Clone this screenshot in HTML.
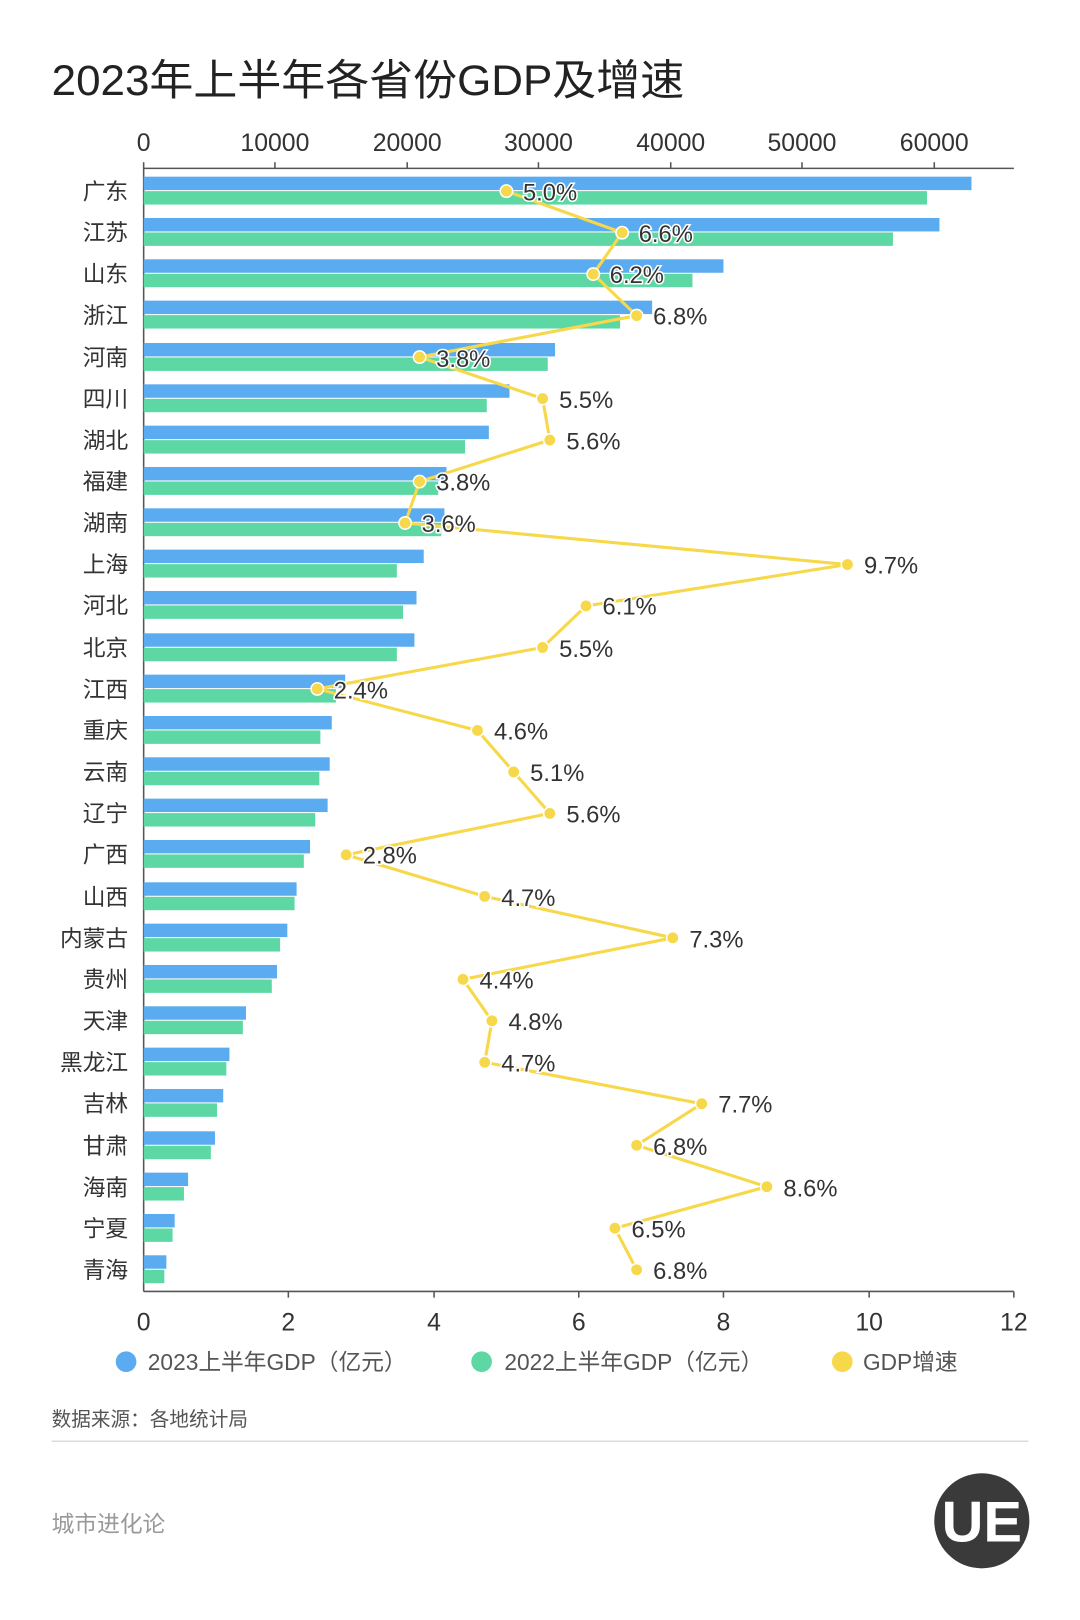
<!DOCTYPE html>
<html><head><meta charset="utf-8"><style>
html,body{margin:0;padding:0;background:#fff;}
svg{display:block;font-family:"Liberation Sans","Noto Sans CJK SC",sans-serif;}
.t{font-size:22px;fill:#333;}
.p{font-size:23px;fill:#333;paint-order:stroke;stroke:#fff;stroke-width:3px;}
.r{font-size:22px;fill:#333;text-anchor:end;}
.b{fill:#5aabf0;}.g{fill:#5dd8a4;}
</style></head><body>
<svg width="1080" height="1620" viewBox="0 0 1045 1568" preserveAspectRatio="none">
<rect width="1045" height="1568" fill="#fff"/>
<text x="50" y="92" textLength="612" lengthAdjust="spacingAndGlyphs" style="font-size:41px;fill:#222;">2023年上半年各省份GDP及增速</text>
<g class="t" text-anchor="middle" style="font-size:24px">
<text x="139" y="146">0</text><text x="266" y="146">10000</text><text x="394" y="146">20000</text><text x="521" y="146">30000</text><text x="649" y="146">40000</text><text x="776" y="146">50000</text><text x="904" y="146">60000</text>
<text x="139" y="1288">0</text><text x="279" y="1288">2</text><text x="420" y="1288">4</text><text x="560" y="1288">6</text><text x="700" y="1288">8</text><text x="841" y="1288">10</text><text x="981" y="1288">12</text>
</g>
<g stroke="#555" stroke-width="1.5">
<line x1="139" y1="163" x2="981" y2="163"/><line x1="139" y1="1250" x2="981" y2="1250"/><line x1="139" y1="163" x2="139" y2="1250"/>
<line x1="139" y1="157" x2="139" y2="163"/><line x1="266" y1="157" x2="266" y2="163"/><line x1="394" y1="157" x2="394" y2="163"/><line x1="521" y1="157" x2="521" y2="163"/><line x1="649" y1="157" x2="649" y2="163"/><line x1="776" y1="157" x2="776" y2="163"/><line x1="904" y1="157" x2="904" y2="163"/>
<line x1="279" y1="1250" x2="279" y2="1256"/><line x1="420" y1="1250" x2="420" y2="1256"/><line x1="560" y1="1250" x2="560" y2="1256"/><line x1="700" y1="1250" x2="700" y2="1256"/><line x1="841" y1="1250" x2="841" y2="1256"/><line x1="981" y1="1250" x2="981" y2="1256"/>
</g>
<g>
<rect class="b" x="139" y="171" width="801" height="13"/><rect class="g" x="139" y="185" width="758" height="13"/>
<rect class="b" x="139" y="211" width="770" height="13"/><rect class="g" x="139" y="225" width="725" height="13"/>
<rect class="b" x="139" y="251" width="561" height="13"/><rect class="g" x="139" y="265" width="531" height="13"/>
<rect class="b" x="139" y="291" width="492" height="13"/><rect class="g" x="139" y="305" width="461" height="13"/>
<rect class="b" x="139" y="332" width="398" height="13"/><rect class="g" x="139" y="346" width="391" height="13"/>
<rect class="b" x="139" y="372" width="354" height="13"/><rect class="g" x="139" y="386" width="332" height="13"/>
<rect class="b" x="139" y="412" width="334" height="13"/><rect class="g" x="139" y="426" width="311" height="13"/>
<rect class="b" x="139" y="452" width="293" height="13"/><rect class="g" x="139" y="466" width="285" height="13"/>
<rect class="b" x="139" y="492" width="291" height="13"/><rect class="g" x="139" y="506" width="288" height="13"/>
<rect class="b" x="139" y="532" width="271" height="13"/><rect class="g" x="139" y="546" width="245" height="13"/>
<rect class="b" x="139" y="572" width="264" height="13"/><rect class="g" x="139" y="586" width="251" height="13"/>
<rect class="b" x="139" y="613" width="262" height="13"/><rect class="g" x="139" y="627" width="245" height="13"/>
<rect class="b" x="139" y="653" width="195" height="13"/><rect class="g" x="139" y="667" width="186" height="13"/>
<rect class="b" x="139" y="693" width="182" height="13"/><rect class="g" x="139" y="707" width="171" height="13"/>
<rect class="b" x="139" y="733" width="180" height="13"/><rect class="g" x="139" y="747" width="170" height="13"/>
<rect class="b" x="139" y="773" width="178" height="13"/><rect class="g" x="139" y="787" width="166" height="13"/>
<rect class="b" x="139" y="813" width="161" height="13"/><rect class="g" x="139" y="827" width="155" height="13"/>
<rect class="b" x="139" y="854" width="148" height="13"/><rect class="g" x="139" y="868" width="146" height="13"/>
<rect class="b" x="139" y="894" width="139" height="13"/><rect class="g" x="139" y="908" width="132" height="13"/>
<rect class="b" x="139" y="934" width="129" height="13"/><rect class="g" x="139" y="948" width="124" height="13"/>
<rect class="b" x="139" y="974" width="99" height="13"/><rect class="g" x="139" y="988" width="96" height="13"/>
<rect class="b" x="139" y="1014" width="83" height="13"/><rect class="g" x="139" y="1028" width="80" height="13"/>
<rect class="b" x="139" y="1054" width="77" height="13"/><rect class="g" x="139" y="1068" width="71" height="13"/>
<rect class="b" x="139" y="1095" width="69" height="13"/><rect class="g" x="139" y="1109" width="65" height="13"/>
<rect class="b" x="139" y="1135" width="43" height="13"/><rect class="g" x="139" y="1149" width="39" height="13"/>
<rect class="b" x="139" y="1175" width="30" height="13"/><rect class="g" x="139" y="1189" width="28" height="13"/>
<rect class="b" x="139" y="1215" width="22" height="13"/><rect class="g" x="139" y="1229" width="20" height="13"/>
</g>
<g class="r">
<text x="124" y="193">广东</text><text x="124" y="233">江苏</text><text x="124" y="273">山东</text><text x="124" y="313">浙江</text><text x="124" y="354">河南</text><text x="124" y="394">四川</text><text x="124" y="434">湖北</text><text x="124" y="474">福建</text><text x="124" y="514">湖南</text><text x="124" y="554">上海</text><text x="124" y="594">河北</text><text x="124" y="635">北京</text><text x="124" y="675">江西</text><text x="124" y="715">重庆</text><text x="124" y="755">云南</text><text x="124" y="795">辽宁</text><text x="124" y="835">广西</text><text x="124" y="876">山西</text><text x="124" y="916">内蒙古</text><text x="124" y="956">贵州</text><text x="124" y="996">天津</text><text x="124" y="1036">黑龙江</text><text x="124" y="1076">吉林</text><text x="124" y="1117">甘肃</text><text x="124" y="1157">海南</text><text x="124" y="1197">宁夏</text><text x="124" y="1237">青海</text>
</g>
<polyline fill="none" stroke="#f7d84a" stroke-width="3" points="490,185 602,225.2 574,265.3 616,305.5 406,345.6 525,385.8 532,425.9 406,466.1 392,506.2 820,546.4 567,586.5 525,626.7 307,666.8 462,707 497,747.1 532,787.3 335,827.4 469,867.6 651,907.7 448,947.9 476,988 469,1028.2 679,1068.3 616,1108.5 742,1148.6 595,1188.8 616,1229"/>
<g fill="#f7d84a" stroke="#fff" stroke-width="1.5">
<circle cx="490" cy="185" r="6"/><circle cx="602" cy="225.2" r="6"/><circle cx="574" cy="265.3" r="6"/><circle cx="616" cy="305.5" r="6"/><circle cx="406" cy="345.6" r="6"/><circle cx="525" cy="385.8" r="6"/><circle cx="532" cy="425.9" r="6"/><circle cx="406" cy="466.1" r="6"/><circle cx="392" cy="506.2" r="6"/><circle cx="820" cy="546.4" r="6"/><circle cx="567" cy="586.5" r="6"/><circle cx="525" cy="626.7" r="6"/><circle cx="307" cy="666.8" r="6"/><circle cx="462" cy="707" r="6"/><circle cx="497" cy="747.1" r="6"/><circle cx="532" cy="787.3" r="6"/><circle cx="335" cy="827.4" r="6"/><circle cx="469" cy="867.6" r="6"/><circle cx="651" cy="907.7" r="6"/><circle cx="448" cy="947.9" r="6"/><circle cx="476" cy="988" r="6"/><circle cx="469" cy="1028.2" r="6"/><circle cx="679" cy="1068.3" r="6"/><circle cx="616" cy="1108.5" r="6"/><circle cx="742" cy="1148.6" r="6"/><circle cx="595" cy="1188.8" r="6"/><circle cx="616" cy="1229" r="6"/>
</g>
<g class="p">
<text x="506" y="194">5.0%</text><text x="618" y="234">6.6%</text><text x="590" y="274">6.2%</text><text x="632" y="314">6.8%</text><text x="422" y="355">3.8%</text><text x="541" y="395">5.5%</text><text x="548" y="435">5.6%</text><text x="422" y="475">3.8%</text><text x="408" y="515">3.6%</text><text x="836" y="555">9.7%</text><text x="583" y="595">6.1%</text><text x="541" y="636">5.5%</text><text x="323" y="676">2.4%</text><text x="478" y="716">4.6%</text><text x="513" y="756">5.1%</text><text x="548" y="796">5.6%</text><text x="351" y="836">2.8%</text><text x="485" y="877">4.7%</text><text x="667" y="917">7.3%</text><text x="464" y="957">4.4%</text><text x="492" y="997">4.8%</text><text x="485" y="1037">4.7%</text><text x="695" y="1077">7.7%</text><text x="632" y="1118">6.8%</text><text x="758" y="1158">8.6%</text><text x="611" y="1198">6.5%</text><text x="632" y="1238">6.8%</text>
</g>
<circle cx="122" cy="1318" r="10" fill="#5aabf0"/><text x="143" y="1326" class="t" style="fill:#555">2023上半年GDP（亿元）</text>
<circle cx="466" cy="1318" r="10" fill="#5dd8a4"/><text x="488" y="1326" class="t" style="fill:#555">2022上半年GDP（亿元）</text>
<circle cx="815" cy="1318" r="10" fill="#f7d84a"/><text x="835" y="1326" class="t" style="fill:#555">GDP增速</text>
<text x="50" y="1380" style="font-size:19px;fill:#555">数据来源：各地统计局</text>
<line x1="50" y1="1395" x2="995" y2="1395" stroke="#ddd" stroke-width="1.5"/>
<text x="50" y="1483" style="font-size:22px;fill:#999">城市进化论</text>
<circle cx="950" cy="1472" r="46" fill="#3a3a3a"/>
<text x="950" y="1492" text-anchor="middle" style="font-size:56px;fill:#fff;font-weight:bold">UE</text>
</svg>
</body></html>
